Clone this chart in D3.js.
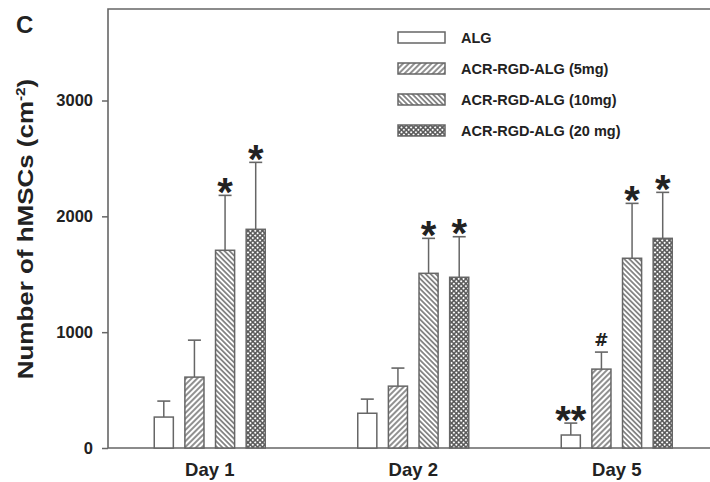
<!DOCTYPE html>
<html>
<head>
<meta charset="utf-8">
<script src="https://cdn.jsdelivr.net/npm/d3@7"></script>
<style>
  body { margin: 0; background: #fff; }
  text { font-family: "Liberation Sans", Arial, sans-serif; font-weight: bold; }
</style>
</head>
<body>
<div id="chart"></div>
<script>
// data
const days = ["Day 1", "Day 2", "Day 5"];
const series = ["ALG", "ACR-RGD-ALG (5mg)", "ACR-RGD-ALG (10mg)", "ACR-RGD-ALG (20 mg)"];
const meanALG = [267, 300, 112];
const mean5 = [612, 534, 681];
const mean10 = [1707, 1508, 1638];
const mean20 = [1888, 1474, 1810];
const errALG = [138, 122, 103];
const err5 = [319, 156, 147];
const err10 = [474, 302, 474];
const err20 = [578, 350, 397];
const markALG = ["", "", "**"];
const mark5 = ["", "", "#"];
const mark10 = ["*", "*", "*"];
const mark20 = ["*", "*", "*"];
const yTicks = [0, 1000, 2000, 3000];

const means = [meanALG, mean5, mean10, mean20];
const errs = [errALG, err5, err10, err20];
const marks = [markALG, mark5, mark10, mark20];
const fills = ["#fff", "url(#p5)", "url(#p10)", "url(#p20)"];

const W = 710, H = 482;
const mLeft = 108, mRight = 718.5, mTop = 9, mBottom = 448;
const ink = "#666";
const textInk = "#222";

const svg = d3.select("#chart").append("svg")
    .attr("width", W).attr("height", H);

// hatch patterns
const defs = svg.append("defs");
function hatch(id, size, angle, sw, cross) {
    const p = defs.append("pattern")
        .attr("id", id)
        .attr("patternUnits", "userSpaceOnUse")
        .attr("width", size).attr("height", size)
        .attr("patternTransform", `rotate(${angle})`);
    p.append("rect").attr("width", size).attr("height", size).attr("fill", "#fff");
    p.append("line").attr("x1", size / 2).attr("x2", size / 2)
        .attr("y1", 0).attr("y2", size)
        .attr("stroke", "#555").attr("stroke-width", sw);
    if (cross) {
        p.append("line").attr("y1", size / 2).attr("y2", size / 2)
            .attr("x1", 0).attr("x2", size)
            .attr("stroke", "#555").attr("stroke-width", sw);
    }
}
hatch("p5", 4, 45, 1.3, false);
hatch("p10", 3.6, -45, 1.3, false);
hatch("p20", 3.4, 45, 1.5, true);

const x = d3.scaleBand().domain(days).range([mLeft, mRight]).padding(0);
const xi = d3.scaleBand().domain(series).range([0, 111]).paddingInner(0.377);
const y = d3.scaleLinear().domain([0, 3790]).range([mBottom, mTop]);

// frame
svg.append("path")
    .attr("d", `M${mLeft},${mBottom}V${mTop}H${mRight}V${mBottom}Z`)
    .attr("fill", "none").attr("stroke", ink).attr("stroke-width", 1.6);

// y axis
const yAxis = svg.append("g")
    .attr("transform", `translate(${mLeft},0)`)
    .call(d3.axisLeft(y).tickValues(yTicks).tickSize(6).tickPadding(9).tickFormat(d3.format("d")));
yAxis.select(".domain").remove();
yAxis.selectAll(".tick line").attr("stroke", ink).attr("stroke-width", 1.5);
yAxis.selectAll(".tick text")
    .attr("fill", textInk)
    .style("font-size", "16.5px")
    .style("font-family", "'Liberation Sans', Arial, sans-serif")
    .style("font-weight", "bold");

// x labels
svg.selectAll(".xlab")
    .data(days)
    .enter().append("text")
    .attr("x", d => x(d) + x.bandwidth() / 2)
    .attr("y", 476)
    .attr("text-anchor", "middle")
    .attr("fill", textInk)
    .style("font-size", "18.5px")
    .text(d => d);

// bars
const groups = svg.selectAll(".grp")
    .data(days)
    .enter().append("g")
    .attr("transform", d => `translate(${x(d) + x.bandwidth() / 2 - 55.5},0)`);

series.forEach(function (s, si) {
    groups.each(function (d, di) {
        const g = d3.select(this);
        const bx = xi(s), bw = xi.bandwidth();
        const v = means[si][di], e = errs[si][di];
        const cx = bx + bw / 2;
        // error bar
        g.append("line")
            .attr("x1", cx).attr("x2", cx)
            .attr("y1", y(v)).attr("y2", y(v + e))
            .attr("stroke", ink).attr("stroke-width", 1.5);
        g.append("line")
            .attr("x1", cx - 6.5).attr("x2", cx + 6.5)
            .attr("y1", y(v + e)).attr("y2", y(v + e))
            .attr("stroke", ink).attr("stroke-width", 1.6);
        g.append("rect")
            .attr("x", bx).attr("width", bw)
            .attr("y", y(v)).attr("height", y(0) - y(v))
            .attr("fill", fills[si])
            .attr("stroke", ink).attr("stroke-width", 1.5);
        // significance mark
        const m = marks[si][di];
        if (m === "*" || m === "**") {
            g.append("text")
                .attr("x", cx)
                .attr("y", y(v + e) + 10.5)
                .attr("text-anchor", "middle")
                .attr("fill", textInk)
                .style("font-size", "40px")
                .text(m);
        } else if (m) {
            g.append("text")
                .attr("x", cx)
                .attr("y", y(v + e) - 6)
                .attr("text-anchor", "middle")
                .attr("fill", textInk)
                .style("font-family", "'DejaVu Sans', sans-serif")
                .style("font-size", "17px")
                .text(m);
        }
    });
});

// legend
const legend = svg.append("g");
series.forEach(function (s, i) {
    const ly = 32 + i * 31;
    legend.append("rect")
        .attr("x", 398).attr("y", ly)
        .attr("width", 47).attr("height", 11)
        .attr("fill", fills[i])
        .attr("stroke", ink).attr("stroke-width", 1.5);
    legend.append("text")
        .attr("x", 461).attr("y", ly + 10.5)
        .attr("fill", textInk)
        .style("font-size", "14.5px")
        .text(s);
});

// y title
const yt = svg.append("text")
    .attr("transform", "translate(33,229) rotate(-90) scale(1.18,1)")
    .attr("text-anchor", "middle")
    .attr("fill", textInk)
    .style("font-size", "22px");
yt.append("tspan").text("Number of hMSCs (cm");
yt.append("tspan").attr("dy", -8).style("font-size", "13px").text("-2");
yt.append("tspan").attr("dy", 8).text(")");

// panel letter
svg.append("text")
    .attr("x", 16).attr("y", 33)
    .attr("fill", textInk)
    .style("font-size", "24px")
    .text("C");
</script>
</body>
</html>
